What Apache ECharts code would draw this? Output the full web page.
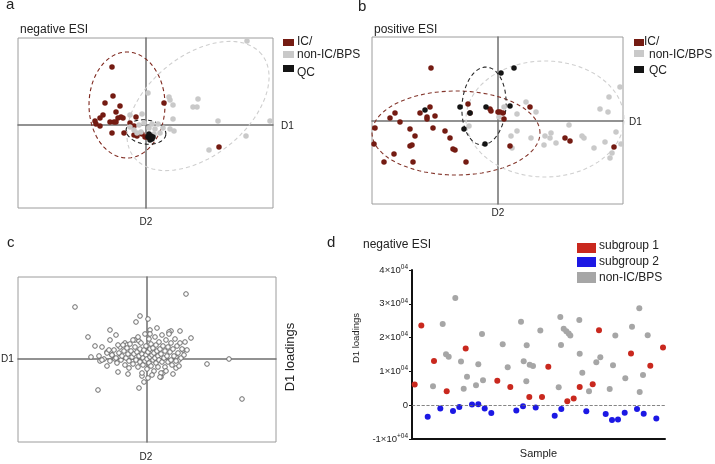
<!DOCTYPE html>
<html><head><meta charset="utf-8">
<script src="https://cdn.jsdelivr.net/npm/echarts@6/dist/echarts.min.js"></script>
<style>html,body{margin:0;padding:0;background:#fff}#c{width:715px;height:464px}</style>
</head><body><div id="c"></div>
<script>
// ---------- Panel a (negative ESI, score plot; units = relative D1/D2 scores) ----------
const aIC = [[-34,58],[-33,29],[-41,22],[-26,19],[18,22],[-30,13],[-43,10],[-46,7],[-28,7],[-25,8],[-23,7],[-10,8],[-51,4],[-50,1],[-46,-1],[-36,3],[-32,3],[-30,3],[-16,2],[-34,-8],[-22,-8],[-12,-10],[-9,-11],[-1,-12],[1,-12],[73,-22],[-12,-1],[-4,-9]];
const aNon = [[101,84],[2,32],[23,28],[24,25],[27,20],[52,26],[47,18],[51,18],[27,6],[72,4],[124,4],[-4,11],[-16,10],[24,-4],[28,-6],[100,-11],[63,-25],[-16,-2],[-9,-8],[-5,-7],[-2,2],[6,1],[9,-4],[12,1],[14,-8],[3,-3],[-12,-5],[-7,0],[8,-9],[17,-3]];
const aQC = [[2,-12],[4,-13],[5,-11],[6,-14],[3,-9],[4,-15],[7,-12]];
// ellipse: [centerX, centerY, radiusX, radiusY, angleDeg]
const aEllIC = [-19,20,38,53,0];
const aEllNon = [52,19,82,50,39];
const aEllQC = [0,-7,20,12,-8];

// ---------- Panel b (positive ESI) ----------
const bIC = [[-67,53],[-103,8],[-108,3],[-98,-1],[-123,-7],[-124,-23],[-78,8],[-68,14],[-71,4],[-71,2],[-63,5],[-65,-7],[-88,-8],[-83,-15],[-88,-25],[-86,-24],[-104,-33],[-114,-41],[-85,-41],[-53,-10],[-48,-17],[-45,-28],[-43,-29],[-32,-41],[-30,17],[-28,8],[-8,12],[-7,10],[0,9],[2,9],[5,8],[6,2],[12,-25],[32,14],[67,-17],[72,-20],[116,-26]];
const bNon = [[122,34],[111,24],[102,12],[110,9],[28,19],[38,9],[19,7],[6,14],[1,4],[-29,-5],[71,-4],[19,-10],[13,-15],[33,-17],[47,-15],[53,-12],[52,-17],[58,-22],[46,-24],[84,-15],[86,-17],[96,-27],[107,-21],[118,-11],[123,-23],[114,-32],[112,-37],[14,-27]];
const bQC = [[3,48],[16,53],[-73,11],[-38,14],[-28,8],[-12,14],[12,15],[-34,-8],[-13,-23]];
const bEllIC = [-42,-12,84,42,0];
const bEllNon = [47,2,79,58,0];
const bEllQC = [-14,15,22,39,-4];

// ---------- Panel c (loadings) ----------
const cLoadings = [[-72,52],[39,65],[-59,22],[-49,-31],[82,0],[60,-5],[95,-40],[-7,43],[-11,37],[1,40],[-37,29],[-31,24],[-37,19],[-52,13],[-45,12],[-56,2],[-47,-2],[-40,-7],[-29,-13],[-19,-15],[-5,-17],[-3,-23],[-8,-29],[3,29],[3,25],[10,31],[24,28],[22,27],[33,28],[44,21],[36,9],[29,2],[32,-1],[29,-9],[26,-15],[14,-18],[16,-14],[-12,19],[-8,18],[-22,16],[-20,14],[-40,7],[-35,4],[-32,0],[-27,2],
[-48,3],[-43,0],[-40,6],[-37,-2],[-35,4],[-33,9],[-31,1],[-30,-4],[-28,6],[-27,12],[-26,-1],[-25,3],[-23,8],[-22,-6],[-21,1],[-20,11],[-19,5],[-18,-2],[-17,15],[-16,8],[-15,2],[-14,-5],[-13,5],[-12,12],[-11,-1],[-10,7],[-9,-8],[-8,3],[-7,10],[-7,-3],[-6,16],[-5,5],[-4,-6],[-4,1],[-3,9],[-2,-2],[-1,13],[-1,4],[0,-10],[0,0],[1,7],[2,-4],[2,20],[3,2],[3,10],[4,-7],[4,15],[5,4],[6,-1],[6,11],[7,-12],[7,6],[8,1],[8,22],[9,-4],[9,14],[10,8],[11,-8],[11,3],[12,17],[12,-1],[13,10],[14,5],[14,-14],[15,-3],[15,24],[16,13],[17,1],[18,8],[18,-8],[19,19],[20,3],[21,-3],[21,12],[22,25],[23,7],[24,-1],[24,16],[25,-6],[26,10],[27,3],[28,20],[29,-2],[30,13],[31,6],[32,-7],[33,16],[34,1],[35,10],[37,4],[38,17],[40,9],[-45,-1],[-38,9],[-24,14],[-14,19],[-2,25],[-9,22],[5,-16],[-5,-14],[13,-18],[-18,-9],[19,-12],[-29,14],[1,-19]];

// ---------- Panel d (D1 loadings per sample, negative ESI) ----------
const dSub1X = [2.7,9.3,22,34.7,53.7,85.3,98.3,117.3,130,136.3,155.3,161.7,167.7,180.7,187,219,238.3,251];
const dSub1Y = [6100,23600,13100,4100,16800,7200,5400,2400,2400,11400,1200,2000,5400,6200,22200,15300,11700,17100];
const dSub2X = [15.7,28.3,41,47.3,60,66.3,72.7,79.3,104.3,111,123.7,142.7,149.3,174.3,193.7,200,206,212.7,225,231.7,244.3];
const dSub2Y = [-3400,-1000,-1700,-500,200,300,-1000,-2300,-1600,-300,-700,-3100,-1100,-1800,-2600,-4400,-4200,-2200,-1100,-2500,-3900];
const dNonX = [21,30.7,34,36.7,43.3,49,51.7,55,64,66.3,70,71,90.7,95.7,109,111.7,114.3,114.7,117.7,121,128.3,146.7,148.3,149,151.7,154.3,156.7,158.3,167.3,167.7,170.3,177,184.3,188.3,197.7,201,203.3,213.3,220,227.3,227.7,231,235.7];
const dNonY = [5600,24000,15100,14300,31700,12900,4900,8400,5900,12100,21100,7400,18000,11200,24700,13000,7100,17700,12000,11600,22100,5300,26100,17800,22600,21900,21200,20600,25200,15200,9600,4100,12700,14200,4800,11800,20600,8000,23200,28700,3900,8900,20700];
const dYTicks = [-10000,0,10000,20000,30000,40000];

const RED = '#741b12', GRAY = '#c9c9c9', BLACK = '#141414';
const zip = (xs, ys) => xs.map((x, i) => [x, ys[i]]);

function ellipseRender(params, api) {
  const cx = api.value(0), cy = api.value(1), rx = api.value(2), ry = api.value(3);
  const ang = api.value(4) * Math.PI / 180;
  const pts = [];
  for (let k = 0; k <= 90; k++) {
    const t = k / 90 * 2 * Math.PI;
    const ex = rx * Math.cos(t), ey = ry * Math.sin(t);
    pts.push(api.coord([cx + ex * Math.cos(ang) - ey * Math.sin(ang), cy + ex * Math.sin(ang) + ey * Math.cos(ang)]));
  }
  return { type: 'polyline', shape: { points: pts }, style: { stroke: api.visual('color'), fill: null, lineWidth: 1.1, lineDash: [4, 3] } };
}
function ellSeries(idx, list) {
  return { type: 'custom', xAxisIndex: idx, yAxisIndex: idx, renderItem: ellipseRender, encode: { x: 0, y: 1 }, clip: false, silent: true,
    data: list.map(([v, c]) => ({ value: v, itemStyle: { color: c } })) };
}
function scat(idx, data, color, size, z) {
  return { type: 'scatter', xAxisIndex: idx, yAxisIndex: idx, data: data, symbolSize: size, z: z || 3, itemStyle: { color: color, opacity: 1 } };
}
function crossAxis(idx, min, max, isX) {
  return { type: 'value', gridIndex: idx, min: min, max: max,
    axisLine: { show: true, onZero: true, lineStyle: { color: '#6f6f6f', width: 1.5 } },
    axisTick: { show: false }, axisLabel: { show: false }, splitLine: { show: false } };
}

const F = 'Liberation Sans, Arial, sans-serif';
const txt = (x, y, s, size, opts) => Object.assign({ type: 'text', x: x, y: y, style: Object.assign({ text: s, fontSize: size, fontFamily: F, fill: '#222', textVerticalAlign: 'middle' }, opts || {}) });
const box = (x, y, w, h, c) => ({ type: 'rect', shape: { x: x, y: y, width: w, height: h }, style: { fill: c } });

const chart = echarts.init(document.getElementById('c'), null, { renderer: 'canvas' });
chart.setOption({
  animation: false,
  backgroundColor: '#fff',
  grid: [
    { left: 18, top: 38, width: 255, height: 170, show: true, borderColor: '#9c9c9c', borderWidth: 1, backgroundColor: 'transparent' },
    { left: 372, top: 37, width: 251, height: 167, show: true, borderColor: '#9c9c9c', borderWidth: 1, backgroundColor: 'transparent' },
    { left: 18, top: 277, width: 258, height: 165, show: true, borderColor: '#9c9c9c', borderWidth: 1, backgroundColor: 'transparent' },
    { left: 412, top: 270, width: 253, height: 169 }
  ],
  xAxis: [
    crossAxis(0, -128, 127), crossAxis(1, -126, 125), crossAxis(2, -129, 129),
    { type: 'value', gridIndex: 3, min: 0, max: 253, axisLine: { show: true, onZero: false, lineStyle: { color: '#111', width: 2 } },
      axisTick: { show: false }, axisLabel: { show: false }, splitLine: { show: false },
      name: 'Sample', nameLocation: 'middle', nameGap: 9, nameTextStyle: { fontSize: 11, fontFamily: F, color: '#222' } }
  ],
  yAxis: [
    crossAxis(0, -83, 87), crossAxis(1, -83, 84), crossAxis(2, -83, 82),
    { type: 'value', gridIndex: 3, min: dYTicks[0], max: dYTicks[dYTicks.length - 1], interval: 10000,
      axisLine: { show: true, lineStyle: { color: '#111', width: 2 } },
      axisTick: { show: true, length: 3, lineStyle: { color: '#111', width: 1 } },
      splitLine: { show: false },
      axisLabel: { margin: 4, color: '#222', fontFamily: F,
        formatter: v => v === 0 ? '{b|0}' : (v < 0 ? '{b|-1×10}{s|+04}' : '{b|' + (v / 10000) + '×10}{s|04}'),
        rich: { b: { fontSize: 9.5, fontFamily: F, color: '#222' }, s: { fontSize: 6.5, fontFamily: F, color: '#222', padding: [0, 0, 6, 0] } } } }
  ],
  series: [
    ellSeries(0, [[aEllIC, '#7d261c'], [aEllNon, '#cfcfcf'], [aEllQC, '#1a1a1a']]),
    scat(0, aIC, RED, 5.5), scat(0, aNon, GRAY, 5.5), scat(0, aQC, BLACK, 5.5, 4),
    ellSeries(1, [[bEllIC, '#84362c'], [bEllNon, '#d0d0d0'], [bEllQC, '#2a2a2a']]),
    scat(1, bNon, GRAY, 5.5), scat(1, bIC, RED, 5.5), scat(1, bQC, BLACK, 5.5, 4),
    { type: 'scatter', xAxisIndex: 2, yAxisIndex: 2, data: cLoadings, symbol: 'circle', symbolSize: 4.6,
      itemStyle: { color: '#fff', borderColor: '#6a6a6a', borderWidth: 1, opacity: 1 } },
    scat(3, zip(dNonX, dNonY), '#a6a6a6', 6),
    scat(3, zip(dSub1X, dSub1Y), '#c9281e', 6),
    Object.assign(scat(3, zip(dSub2X, dSub2Y), '#1c18e4', 6), {
      markLine: { silent: true, symbol: 'none', label: { show: false },
        lineStyle: { type: 'dashed', color: '#666', width: 0.8 }, data: [{ yAxis: 0 }] } })
  ],
  graphic: [
    txt(6, 5, 'a', 15), txt(358, 7, 'b', 15), txt(7, 243, 'c', 15), txt(327, 243, 'd', 15),
    txt(20, 30, 'negative ESI', 12), txt(374, 30, 'positive ESI', 12), txt(363, 245, 'negative ESI', 12),
    // legend a
    box(283, 39, 11, 7, RED), txt(297, 42, 'IC/', 12),
    box(283, 51, 11, 7, GRAY), txt(297, 55, 'non-IC/BPS', 12),
    box(283, 65, 11, 7, BLACK), txt(297, 73, 'QC', 12),
    // legend b
    box(634, 39, 10, 7, RED), txt(644, 42, 'IC/', 12),
    box(634, 50, 10, 7, GRAY), txt(649, 55, 'non-IC/BPS', 12),
    box(634, 66, 10, 7, BLACK), txt(649, 71, 'QC', 12),
    // legend d
    box(577, 243, 19, 10, '#c9281e'), txt(599, 246, 'subgroup 1', 12),
    box(577, 257, 19, 10, '#1c18e4'), txt(599, 262, 'subgroup 2', 12),
    box(577, 272, 19, 11, '#a6a6a6'), txt(599, 278, 'non-IC/BPS', 12),
    // axis names
    txt(281, 126, 'D1', 10), txt(146, 222, 'D2', 10, { textAlign: 'center' }),
    txt(629, 122, 'D1', 10), txt(498, 213, 'D2', 10, { textAlign: 'center' }),
    txt(1, 359, 'D1', 10), txt(146, 457, 'D2', 10, { textAlign: 'center' }),
    { type: 'text', x: 290, y: 357, rotation: Math.PI / 2, style: { text: 'D1 loadings', fontSize: 13, fontFamily: F, fill: '#222', textAlign: 'center', textVerticalAlign: 'middle' } },
    { type: 'text', x: 356, y: 338, rotation: Math.PI / 2, style: { text: 'D1 loadings', fontSize: 9.5, fontFamily: F, fill: '#222', textAlign: 'center', textVerticalAlign: 'middle' } }
  ]
});
</script>
</body></html>
